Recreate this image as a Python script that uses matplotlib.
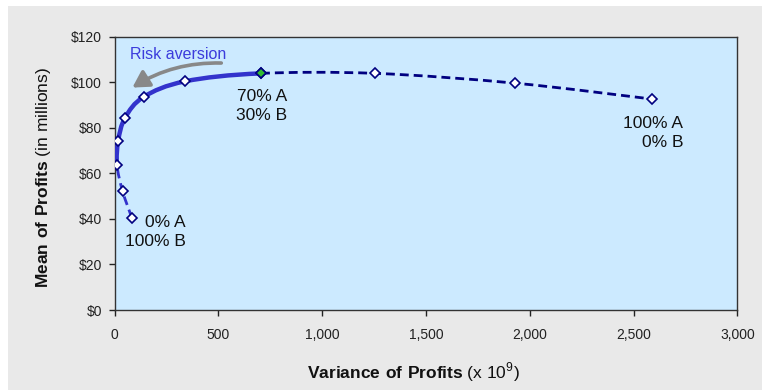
import matplotlib
matplotlib.use('Agg')
import matplotlib.pyplot as plt
from matplotlib.path import Path
from matplotlib.patches import PathPatch, FancyArrowPatch, Rectangle
from matplotlib.ticker import FuncFormatter
import numpy as np

plt.rcParams['font.family'] = ['Liberation Sans', 'DejaVu Sans']
plt.rcParams['mathtext.fontset'] = 'custom'
plt.rcParams['mathtext.rm'] = 'Liberation Sans'
plt.rcParams['mathtext.bf'] = 'Liberation Sans:bold'

# share of A in the portfolio (rest is B)
share_a = [0, 10, 20, 30, 40, 50, 60, 70, 80, 90, 100]
variance = [83, 38, 11, 17, 50, 140, 339, 705, 1256, 1929, 2591]          # x 10^9
mean = [40.4, 52.2, 63.8, 74.3, 84.4, 93.6, 100.4, 103.9, 103.9, 99.6, 92.6]  # $ millions

x_ticks = [0, 500, 1000, 1500, 2000, 2500, 3000]
y_ticks = [0, 20, 40, 60, 80, 100, 120]

blue = '#3333cc'
navy = '#000080'


def smooth_piece(xs, ys, a, b):
    """bezier path through points a..b, tangents taken from the whole curve"""
    pts = np.column_stack([xs, ys]).astype(float)
    n = len(pts)
    verts = [pts[a]]
    codes = [Path.MOVETO]
    for i in range(a, b):
        p0 = pts[i - 1] if i > 0 else pts[i]
        p1, p2 = pts[i], pts[i + 1]
        p3 = pts[i + 2] if i + 2 < n else pts[i + 1]
        verts += [p1 + (p2 - p0) / 6, p2 - (p3 - p1) / 6, p2]
        codes += [Path.CURVE4] * 3
    return Path(verts, codes)


fig = plt.figure(figsize=(7.62, 3.9), dpi=100)
fig.patch.set_facecolor('white')
fig.patches.append(Rectangle((8 / 762, 0), 1, 1 - 6 / 390, transform=fig.transFigure,
                             facecolor='#e9e9e9', edgecolor='none', zorder=-5))

ax = fig.add_axes([0.1505, 0.2051, 0.8171, 0.7008])
ax.set_facecolor('#cceaff')
ax.set_xlim(0, 3000)
ax.set_ylim(0, 120)

i20 = share_a.index(20)
i70 = share_a.index(70)

# inefficient part below the minimum-variance mix
lower = PathPatch(smooth_piece(variance, mean, 0, i20), fill=False, edgecolor=blue,
                  lw=2, linestyle=(0, (3.2, 1.8)), zorder=3)
# past the highest mean
upper = PathPatch(smooth_piece(variance, mean, i70, len(share_a) - 1), fill=False,
                  edgecolor=navy, lw=2, linestyle=(0, (3.2, 1.8)), zorder=3)
# efficient frontier
front = PathPatch(smooth_piece(variance, mean, i20, i70), fill=False, edgecolor=blue,
                  lw=3.2, capstyle='round', zorder=4)
for p in (lower, upper, front):
    ax.add_patch(p)

ax.plot(variance, mean, linestyle='none', marker='D', ms=5.5, mfc='white', mec=navy,
        mew=1.2, zorder=5)
ax.plot(variance[i70], mean[i70], linestyle='none', marker='D', ms=5.5, mfc='#33bb33',
        mec=navy, mew=1.2, zorder=6)

lbl = dict(ha='right', va='top', multialignment='right', fontsize=12.5,
           linespacing=1.32, color='#111111')
ax.text(830, 97, '70% A\n30% B', **lbl)
ax.text(2739, 85, '100% A\n0% B', **lbl)
ax.text(344, 41.8, '0% A\n100% B', **lbl)

ax.text(74, 110, 'Risk aversion', ha='left', va='baseline', fontsize=11.5, color='#3c3cdc')
arrow = FancyArrowPatch((527, 108.4), (74, 97), connectionstyle='arc3,rad=0.16',
                        arrowstyle='-|>,head_length=0.7,head_width=0.4', mutation_scale=14,
                        color='#888888', lw=2.6, zorder=4)
ax.add_patch(arrow)

ax.set_xticks(x_ticks)
ax.set_yticks(y_ticks)
ax.xaxis.set_major_formatter(FuncFormatter(lambda v, p: f'{v:,.0f}'))
ax.yaxis.set_major_formatter(FuncFormatter(lambda v, p: f'${v:.0f}'))
ax.tick_params(axis='x', length=4, width=1, pad=9, labelsize=10, colors='#222222')
ax.tick_params(axis='y', length=4, width=1, pad=5, labelsize=10, colors='#222222')
for s in ax.spines.values():
    s.set_color('#333333')
    s.set_linewidth(1)

ax.set_xlabel(r'$\mathbf{Variance\ of\ Profits}$ (x 10$^9$)', fontsize=12.5, color='#111111')
ax.set_ylabel(r'$\mathbf{Mean\ of\ Profits}$ (in millions)', fontsize=12.5, color='#111111')
ax.xaxis.set_label_coords(0.479, -0.183)
ax.yaxis.set_label_coords(-0.099, 0.483)

fig.savefig('out.png', dpi=100)
